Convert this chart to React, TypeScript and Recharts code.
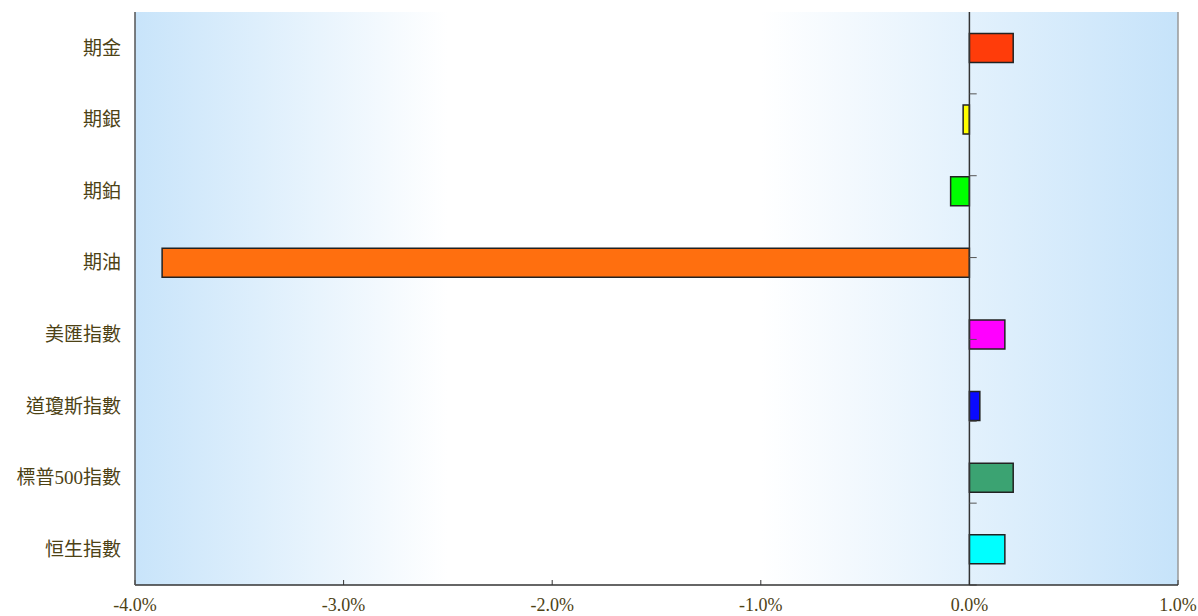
import {
  BarChart,
  Bar,
  Cell,
  XAxis,
  YAxis,
  CartesianGrid,
  ReferenceLine,
} from 'recharts';

const categories = ['期金', '期銀', '期鉑', '期油', '美匯指數', '道瓊斯指數', '標普500指數', '恒生指數'];
const changes = [0.21, -0.03, -0.09, -3.87, 0.17, 0.05, 0.21, 0.17];
const barColors = ['#ff3c0a', '#ffff00', '#00ff00', '#ff6f0f', '#ff00ff', '#0a0aff', '#3ba372', '#00ffff'];
const xTicks = [-4, -3, -2, -1, 0, 1];
const boundaries = [1, 2, 3, 4, 5, 6, 7, 8];

const data = categories.map((name, i) => ({ name, value: changes[i] }));

const textColor = '#4d4215';
const fontFamily = '"Liberation Serif", "Noto Sans CJK TC", serif';

export default function App() {
  return (
    <div style={{ position: 'absolute', left: 0, top: 0, width: 1198, height: 616, background: '#fff' }}>
      <BarChart
        width={1198}
        height={616}
        data={data}
        layout="vertical"
        margin={{ top: 12, right: 20, left: 0, bottom: 0 }}
        barCategoryGap="30%"
      >
        <defs>
          <linearGradient id="bg" x1="0" y1="0" x2="1" y2="0">
            <stop offset="0" stopColor="#c8e4fa" />
            <stop offset="0.3" stopColor="#ffffff" />
            <stop offset="0.6" stopColor="#ffffff" />
            <stop offset="1" stopColor="#c6e3fa" />
          </linearGradient>
        </defs>
        <CartesianGrid fill="url(#bg)" horizontal={false} vertical={false} />
        <XAxis
          type="number"
          domain={[-4, 1]}
          ticks={xTicks}
          tickFormatter={(v) => `${v.toFixed(1)}%`}
          allowDataOverflow
          height={31}
          tickSize={-5}
          tickMargin={18}
          stroke="#333"
          axisLine={{ stroke: '#333', strokeWidth: 1.5 }}
          tick={{ fill: textColor, fontSize: 18, fontFamily }}
        />
        <YAxis
          type="category"
          dataKey="name"
          width={135}
          tickLine={false}
          tickSize={0}
          tickMargin={14}
          interval={0}
          axisLine={{ stroke: '#555', strokeWidth: 1.5 }}
          tick={{ fill: textColor, fontSize: 19, fontFamily }}
        />
        <YAxis yAxisId="grid" type="number" domain={[0, 8]} hide />
        <ReferenceLine x={1} stroke="#999" strokeWidth={1.5} />
        <ReferenceLine yAxisId="grid" y={8} stroke="#999" strokeWidth={1.5} />
        <ReferenceLine x={0} stroke="#333" strokeWidth={1.5} />
        {boundaries.map((b) => (
          <ReferenceLine
            key={b}
            yAxisId="grid"
            segment={[{ x: 0, y: b }, { x: 0.035, y: b }]}
            stroke="#555"
            strokeWidth={1}
          />
        ))}
        <Bar dataKey="value" isAnimationActive={false} stroke="#222" strokeWidth={1.5}>
          {data.map((d, i) => (
            <Cell key={d.name} fill={barColors[i]} />
          ))}
        </Bar>
      </BarChart>
    </div>
  );
}
